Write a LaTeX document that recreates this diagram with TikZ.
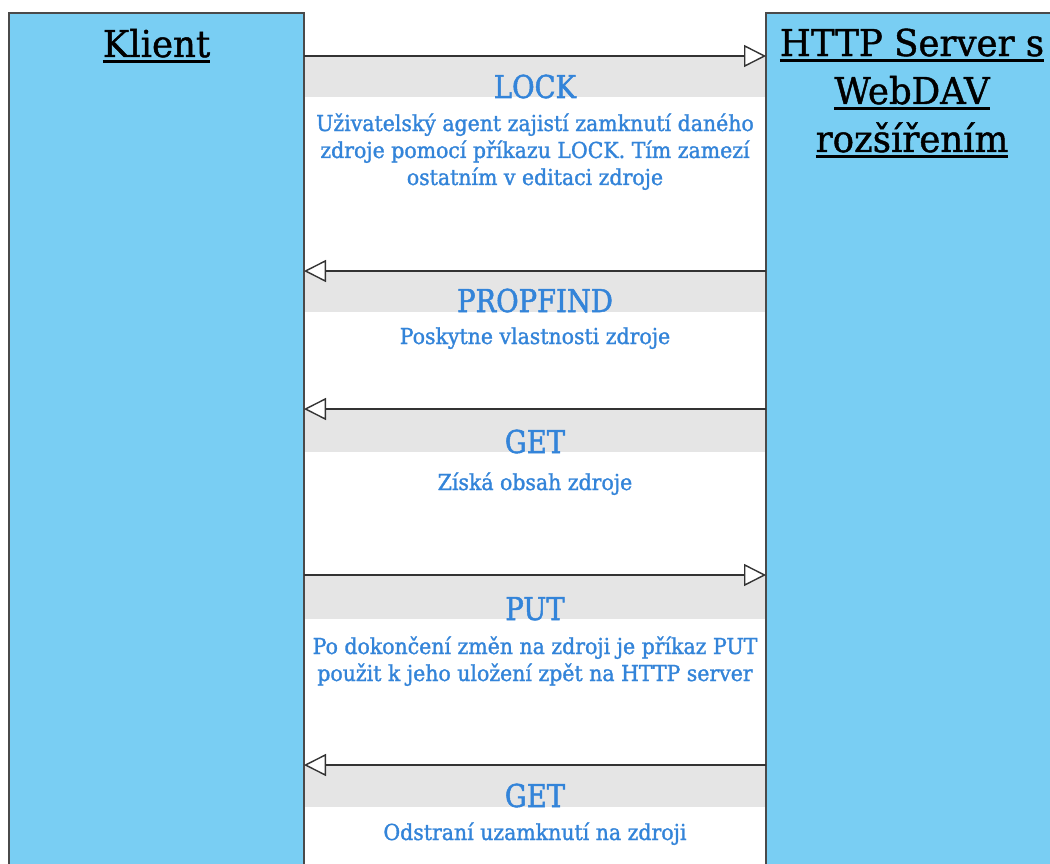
\documentclass[tikz,border=0pt]{standalone}
\usepackage{fontspec}
\setmainfont{DejaVu Serif}[FakeStretch=0.88]
\newfontfamily\ttlfont{DejaVu Serif}[FakeStretch=0.96,FakeBold=1.2]
\newfontfamily\lblfont{DejaVu Serif}[FakeStretch=0.87,FakeBold=1.6]
\newfontfamily\descfont{DejaVu Serif}[FakeStretch=0.93,FakeBold=1.4]
\newcommand\ulx[1]{\setbox0=\hbox{#1}\leavevmode\rlap{\rule[-6pt]{\wd0}{2.8pt}}\box0}
\usetikzlibrary{arrows.meta}
\definecolor{boxblue}{HTML}{79CEF3}
\definecolor{txtblue}{HTML}{3384D9}
\definecolor{bandgray}{HTML}{E5E5E5}
\definecolor{edgegray}{HTML}{4A4A4A}
\begin{document}
\begin{tikzpicture}[x=1pt,y=-1pt,
  lane/.style={draw=edgegray, line width=2pt, fill=boxblue},
  msg/.style={draw=black!80, line width=1.6pt, -{Triangle[length=22pt,width=22pt,fill=white,line width=1.4pt]}},
  bandbox/.style={fill=bandgray},
  ttl/.style={font=\ttlfont\fontsize{37}{48}\selectfont, align=center, anchor=base, text=black},
  lbl/.style={font=\lblfont\fontsize{31.5}{36}\selectfont, text=txtblue, anchor=base},
  desc/.style={font=\descfont\fontsize{22}{27}\selectfont, text=txtblue, align=center, anchor=base},
]
\useasboundingbox (0,0) rectangle (1050,864);
\fill[white] (0,0) rectangle (1050,864);
\begin{scope}
\clip (0,0) rectangle (1050,864);
\draw[lane] (9,13) rectangle (304,880);
\draw[lane] (766,13) rectangle (1062,880);
\end{scope}
% bands
\fill[bandbox] (305,57) rectangle (765,97);
\fill[bandbox] (305,272) rectangle (765,312);
\fill[bandbox] (305,410) rectangle (765,452);
\fill[bandbox] (305,576) rectangle (765,619);
\fill[bandbox] (305,766) rectangle (765,807);
% titles (base anchor = last line)
\node[ttl] (klient) at (156.5,57) {\ulx{Klient}};
\node[ttl] (server) at (912,152) {\ulx{HTTP Server s}\\\ulx{WebDAV}\\\ulx{rozšířením}};
% message ends
\coordinate (c1) at (304,56);  \coordinate (s1) at (766,56);
\coordinate (c2) at (304,271); \coordinate (s2) at (766,271);
\coordinate (c3) at (304,409); \coordinate (s3) at (766,409);
\coordinate (c4) at (304,575); \coordinate (s4) at (766,575);
\coordinate (c5) at (304,765); \coordinate (s5) at (766,765);
\draw[msg] (c1) -- (s1);
\draw[msg] (s2) -- (c2);
\draw[msg] (s3) -- (c3);
\draw[msg] (c4) -- (s4);
\draw[msg] (s5) -- (c5);
% labels
\node[lbl] (l1) at (535,98) {LOCK};
\node[desc] (d1) at (535,185) {Uživatelský agent zajistí zamknutí daného\\zdroje pomocí příkazu LOCK. Tím zamezí\\ostatním v editaci zdroje};
\node[lbl] (l2) at (535,312) {PROPFIND};
\node[desc] (d2) at (535,344) {Poskytne vlastnosti zdroje};
\node[lbl] (l3) at (535,453) {GET};
\node[desc] (d3) at (535,490) {Získá obsah zdroje};
\node[lbl] (l4) at (535,620) {PUT};
\node[desc] (d4) at (535,681) {Po dokončení změn na zdroji je příkaz PUT\\použit k jeho uložení zpět na HTTP server};
\node[lbl] (l5) at (535,807) {GET};
\node[desc] (d5) at (535,840) {Odstraní uzamknutí na zdroji};
\end{tikzpicture}
\end{document}
